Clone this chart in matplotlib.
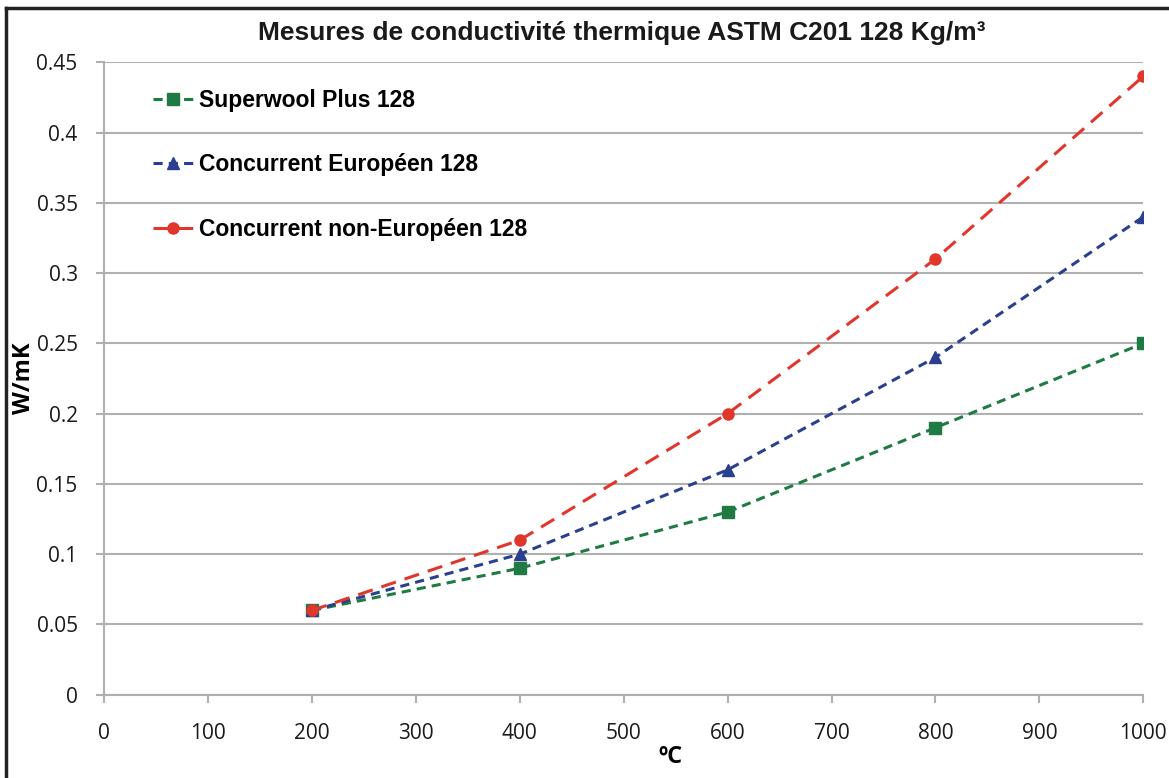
import matplotlib as mpl
mpl.use('Agg')
import matplotlib.pyplot as plt
from matplotlib.lines import Line2D

temps = [200, 400, 600, 800, 1000]
superwool = [0.06, 0.09, 0.13, 0.19, 0.25]
europeen = [0.06, 0.10, 0.16, 0.24, 0.34]
non_europeen = [0.06, 0.11, 0.20, 0.31, 0.44]

labels = ['Superwool Plus 128', 'Concurrent Européen 128', 'Concurrent non-Européen 128']
title = 'Mesures de conductivité thermique ASTM C201 128 Kg/m³'

fig = plt.figure(figsize=(11.69, 7.78), dpi=100)
ax = fig.add_axes([0.089, 0.107, 0.889, 0.813])

tickfont = 'Open Sans'
boldfont = 'Liberation Sans'

ax.plot(temps, superwool, color='#1f7a43', ls=(0, (3, 2)), lw=2.2,
        marker='s', ms=8, label=labels[0])
ax.plot(temps, europeen, color='#2a3f8f', ls=(0, (3, 2)), lw=2.2,
        marker='^', ms=8, label=labels[1])
ax.plot(temps, non_europeen, color='#e0362c', ls=(0, (5, 3)), lw=2.2,
        marker='o', ms=8, label=labels[2])

ax.set_xlim(0, 1000)
ax.set_ylim(0, 0.45)
ax.set_xticks(range(0, 1001, 100))
ax.set_yticks([0, 0.05, 0.1, 0.15, 0.2, 0.25, 0.3, 0.35, 0.4, 0.45])
ax.set_yticklabels(['0', '0.05', '0.1', '0.15', '0.2', '0.25', '0.3', '0.35', '0.4', '0.45'])
ax.grid(axis='y', color='#b0b0b0', lw=1.5)
ax.set_axisbelow(True)
for s in ['top', 'right']:
    ax.spines[s].set_visible(False)
for s in ['left', 'bottom']:
    ax.spines[s].set_color('#b0b0b0')
    ax.spines[s].set_linewidth(1.5)
ax.tick_params(axis='both', colors='#b0b0b0', length=6, width=1.5,
               labelcolor='#1a1a1a', labelsize=15)
ax.tick_params(axis='x', pad=14)
ax.tick_params(axis='y', pad=13)
for t in ax.get_xticklabels() + ax.get_yticklabels():
    t.set_fontfamily(tickfont)

ax.set_xlabel('ºC', fontsize=17, fontweight='bold', family=tickfont, va='center')
ax.set_ylabel('W/mK', fontsize=17, fontweight='bold', family=tickfont, va='center')
ax.xaxis.set_label_coords(0.545, -0.098)
ax.yaxis.set_label_coords(-0.077, 0.5)
fig.text(0.532, 0.958, title, ha='center', va='center', fontsize=19,
         fontweight='bold', family=boldfont, color='#1a1a1a')

leg = ax.legend(loc='upper left', bbox_to_anchor=(0.027, 0.99), frameon=False,
                prop={'family': boldfont, 'weight': 'bold', 'size': 16.5},
                labelspacing=1.8, handlelength=1.8, handletextpad=0.2)

# frame around the chart
fig.add_artist(Line2D([0.005, 0.005], [0, 0.99], color='#222222', lw=2.5, transform=fig.transFigure))
fig.add_artist(Line2D([0.005, 1.0], [0.99, 0.99], color='#222222', lw=2.5, transform=fig.transFigure))

fig.savefig('out.png', dpi=100)
